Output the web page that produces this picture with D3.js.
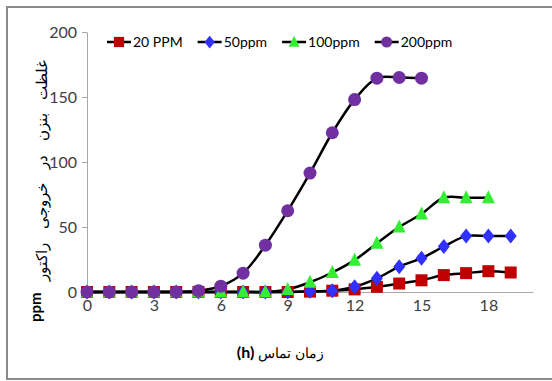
<!DOCTYPE html>
<html lang="fa">
<head>
<meta charset="utf-8">
<title>benzene outlet</title>
<script src="https://d3js.org/d3.v7.min.js"></script>
<style>
  body { margin: 0; background: #fff; }
  svg { display: block; }
  text { font-family: Lato, "Liberation Sans", sans-serif; }
</style>
</head>
<body>
<div id="chart"></div>
<script>
// data
const hours = d3.range(0, 20);            // 0..19
const ppm20  = [0,0,0,0,0,0,0,0,0,0,0.3,1,2,4,6.5,9,13,14.5,16,15];
const ppm50  = [0,0,0,0,0,0,0,0,0,0,0.5,1,4,10.5,19.5,26,35,43,43,43];
const ppm100 = [0,0,0,0,0,0,0,0,0,2,7.5,15,24.5,37.5,50,60,72.5,72.5,72.5];
const ppm200 = [0,0,0,0,0,1,4.5,14.5,36,62.5,91.5,122.5,148,164.5,165,164.5];
const seriesNames = ["20 PPM", "50ppm", "100ppm", "200ppm"];
const xTicks = [0, 3, 6, 9, 12, 15, 18];
const yTicks = [0, 50, 100, 150, 200];

const width = 552, height = 381;
const margin = {top: 32, right: 19, bottom: 89, left: 87};

const series = [
  {name: seriesNames[0], values: ppm20,  color: "#c00000", shape: "square"},
  {name: seriesNames[1], values: ppm50,  color: "#3030ff", shape: "diamond"},
  {name: seriesNames[2], values: ppm100, color: "#33ee33", shape: "triangle"},
  {name: seriesNames[3], values: ppm200, color: "#7030a0", shape: "circle"}
];

const x = d3.scaleLinear().domain([0, 20]).range([margin.left, width - margin.right]);
const y = d3.scaleLinear().domain([0, 200]).range([height - margin.bottom, margin.top]);

const svg = d3.select("#chart").append("svg")
    .attr("width", width).attr("height", height);

// frame (right side runs off the picture)
svg.append("rect")
    .attr("x", 7).attr("y", 7).attr("width", 600).attr("height", 372)
    .attr("fill", "#fff").attr("stroke", "#8a8a8a").attr("stroke-width", 2);

function marker(sel, shape, color, s) {
  let el;
  if (shape === "circle") {
    el = sel.append("circle").attr("r", 6.5 * s);
  } else if (shape === "square") {
    el = sel.append("rect").attr("x", -6 * s).attr("y", -6 * s)
        .attr("width", 12 * s).attr("height", 12 * s);
  } else if (shape === "diamond") {
    el = sel.append("path").attr("d", `M0,${-7.5*s}L${6*s},0L0,${7.5*s}L${-6*s},0Z`);
  } else {
    el = sel.append("path").attr("d", `M0,${-7.5*s}L${6.5*s},${5.5*s}L${-6.5*s},${5.5*s}Z`);
  }
  el.attr("fill", color);
}

// y axis
const yAxis = svg.append("g")
    .attr("transform", `translate(${margin.left},0)`)
    .call(d3.axisLeft(y).tickValues(yTicks).tickSize(5).tickSizeOuter(0).tickPadding(5));
yAxis.select(".domain").attr("stroke", "#a8a8a8");
yAxis.selectAll(".tick line").attr("stroke", "#a8a8a8");
yAxis.selectAll(".tick text").attr("font-size", 16).attr("fill", "#404040")
    .attr("font-family", "Lato, sans-serif");

// x axis
const xAxis = svg.append("g")
    .attr("transform", `translate(0,${y(0)})`)
    .call(d3.axisBottom(x).tickValues(xTicks).tickSize(0).tickSizeOuter(0).tickPadding(8));
xAxis.select(".domain").attr("stroke", "#a8a8a8");
xAxis.selectAll(".tick text").attr("font-size", 16).attr("fill", "#404040")
    .attr("font-family", "Lato, sans-serif");

// lines and markers
const line = d3.line()
    .x((d, i) => x(hours[i]))
    .y(d => y(d))
    .curve(d3.curveCatmullRom.alpha(0.5));

series.forEach(s => {
  svg.append("path")
      .attr("d", line(s.values))
      .attr("fill", "none").attr("stroke", "#000").attr("stroke-width", 2.5);
});
series.forEach(s => {
  const g = svg.append("g");
  s.values.forEach((v, i) => {
    marker(g.append("g").attr("transform", `translate(${x(hours[i])},${y(v)})`), s.shape, s.color, 1);
  });
});

// legend
let lx = 107;
const ly = 42;
series.forEach(s => {
  const g = svg.append("g");
  g.append("line").attr("x1", lx).attr("x2", lx + 24).attr("y1", ly).attr("y2", ly)
      .attr("stroke", "#000").attr("stroke-width", 2.5);
  marker(g.append("g").attr("transform", `translate(${lx + 12},${ly})`), s.shape, s.color, 0.85);
  const t = g.append("text").attr("x", lx + 26).attr("y", ly + 5)
      .attr("font-size", 14).attr("fill", "#000").text(s.name);
  lx += 26 + t.node().getComputedTextLength() + 15;
});

// axis titles
svg.append("text")
    .attr("transform", "translate(47,281) rotate(-90)")
    .attr("font-family", "DejaVu Sans, Noto Sans, sans-serif")
    .attr("font-size", 15).attr("word-spacing", 10).attr("fill", "#000")
    .text("غلظت بنزن در خروجی راکتور");
svg.append("text")
    .attr("transform", "translate(41,322) rotate(-90)")
    .attr("font-family", "Liberation Sans, Arial, sans-serif")
    .attr("font-weight", "bold").attr("font-size", 15).attr("fill", "#000")
    .text("ppm");

const xt = svg.append("text")
    .attr("x", 324).attr("y", 358).attr("text-anchor", "end")
    .attr("font-family", "DejaVu Sans, Noto Sans, sans-serif")
    .attr("font-size", 14).attr("fill", "#000")
    .text("زمان تماس");
svg.append("text")
    .attr("x", 324 - xt.node().getComputedTextLength() - 4).attr("y", 358).attr("text-anchor", "end")
    .attr("font-family", "Liberation Sans, Arial, sans-serif")
    .attr("font-weight", "bold").attr("font-size", 16).attr("fill", "#000")
    .text("(h)");
</script>
</body>
</html>
